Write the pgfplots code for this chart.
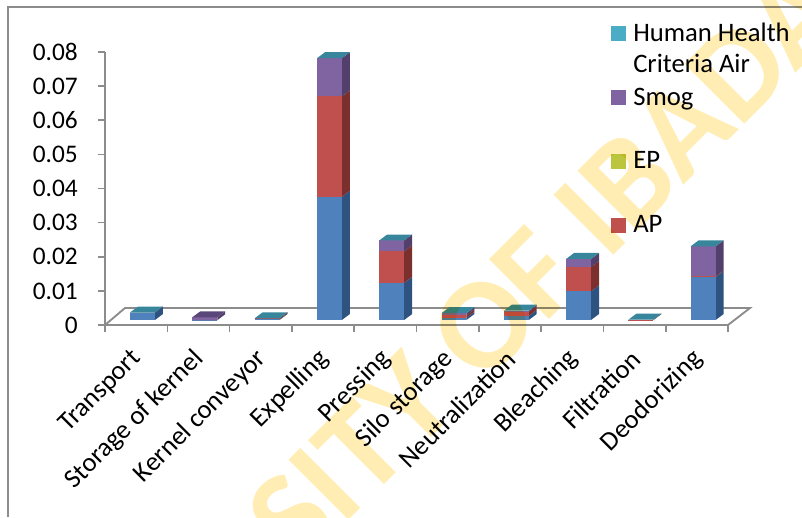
\documentclass[border=0pt]{standalone}
\usepackage{fontspec}
\setmainfont{Carlito}
\usepackage{pgfplots}
\usepackage{pgfplotstable}
\pgfplotsset{compat=1.18}

\definecolor{frameg}{HTML}{8C8C8C}
\definecolor{blueF}{HTML}{4F81BD}
\definecolor{blueS}{HTML}{2F5380}
\definecolor{redF}{HTML}{C0504D}
\definecolor{redS}{HTML}{7C302E}
\definecolor{purF}{HTML}{8064A2}
\definecolor{purS}{HTML}{523F6C}
\definecolor{purT}{HTML}{5A4678}
\definecolor{tealT}{HTML}{37869C}
\definecolor{hhleg}{HTML}{4BACC6}
\definecolor{epleg}{HTML}{BBC53E}
\definecolor{wmark}{HTML}{FFEDB3}

% segment heights of each stacked bar, bottom to top
\pgfplotstableread{
blue    red     smog
0.0022  0       0
0       0       0.0008
0.0002  0.0003  0
0.0361  0.0294  0.0112
0.0109  0.0092  0.0032
0.0007  0.0007  0.0006
0.0012  0.0012  0.0003
0.0084  0.0071  0.0024
0       0.0001  0
0.0126  0.0002  0.0088
}\bars

\newcommand{\barw}{0.2}
\newcommand{\dpx}{0.128}
\newcommand{\dpy}{0.00176}
\newcommand{\basey}{0.00147}

% #1 centre x, #2 from, #3 to, #4 front colour, #5 side colour
\newcommand{\segm}[5]{%
  \pgfmathsetmacro\xa{#1-\barw}\pgfmathsetmacro\xb{#1+\barw}\pgfmathsetmacro\xc{\xb+\dpx}%
  \pgfmathsetmacro\ya{#2}\pgfmathsetmacro\yb{#3}%
  \pgfmathsetmacro\yc{\ya+\dpy}\pgfmathsetmacro\yd{\yb+\dpy}%
  \edef\tmp{\noexpand\addplot[fill=#5,draw=none,mark=none,forget plot] coordinates {(\xb,\ya) (\xc,\yc) (\xc,\yd) (\xb,\yb)} --cycle;
    \noexpand\addplot[fill=#4,draw=none,mark=none,forget plot] coordinates {(\xa,\ya) (\xb,\ya) (\xb,\yb) (\xa,\yb)} --cycle;}\tmp}

\newcommand{\topface}[3]{%
  \pgfmathsetmacro\xa{#1-\barw}\pgfmathsetmacro\xb{#1+\barw}%
  \pgfmathsetmacro\xc{\xb+\dpx}\pgfmathsetmacro\xd{\xa+\dpx}%
  \pgfmathsetmacro\ya{#2}\pgfmathsetmacro\yb{\ya+\dpy}%
  \edef\tmp{\noexpand\addplot[fill=#3,draw=none,mark=none,forget plot] coordinates {(\xa,\ya) (\xb,\ya) (\xc,\yb) (\xd,\yb)} --cycle;}\tmp}

\begin{document}
\begin{tikzpicture}[x=0.75pt,y=-0.75pt]
\path[use as bounding box] (0,0) rectangle (802,517);
% chart frame
\draw[frameg,line width=1.3pt] (8,517) -- (8,7) -- (802,7);
% floor
\draw[frameg,line width=1.4pt,line join=miter] (105,325) -- (125,308) -- (750,308) -- (728,325);

\begin{axis}[
    at={(78.75pt,-243.75pt)}, anchor=south west,
    scale only axis, width=467.25pt, height=204.75pt,
    xmin=0, xmax=10, ymin=0, ymax=0.08,
    clip=false,
    axis lines=left,
    axis line style={-,frameg,line width=1.4pt},
    tick style={frameg,line width=1.2pt},
    tick align=outside, major tick length=5.25pt,
    xtick={0,1,...,10}, xticklabels={},
    ytick={0,0.01,0.02,0.03,0.04,0.05,0.06,0.07,0.08},
    yticklabels={0,0.01,0.02,0.03,0.04,0.05,0.06,0.07,0.08},
    scaled y ticks=false,
    yticklabel style={font=\fontsize{19}{19}\selectfont,inner xsep=0pt,xshift=-15pt},
    extra x ticks={0.5,1.5,2.5,3.5,4.5,5.5,6.5,7.5,8.5,9.5},
    extra x tick labels={Transport,Storage of kernel,Kernel conveyor,Expelling,Pressing,Silo storage,Neutralization,Bleaching,Filtration,Deodorizing},
    extra x tick style={
      major tick length=0pt,
      xticklabel style={font=\fontsize{20}{20}\selectfont,rotate=45,anchor=east,inner sep=0pt,xshift=-15.1pt,yshift=-16.5pt},
    },
  ]
  \pgfplotsforeachungrouped \i in {0,...,9}{%
    \pgfmathsetmacro\cx{\i+0.602}%
    \pgfplotstablegetelem{\i}{blue}\of\bars \let\vb\pgfplotsretval
    \pgfplotstablegetelem{\i}{red}\of\bars \let\vr\pgfplotsretval
    \pgfplotstablegetelem{\i}{smog}\of\bars \let\vs\pgfplotsretval
    \pgfmathsetmacro\ta{\basey+\vb}%
    \pgfmathsetmacro\tb{\ta+\vr}%
    \pgfmathsetmacro\tc{\tb+\vs}%
    \segm{\cx}{\basey}{\ta}{blueF}{blueS}%
    \segm{\cx}{\ta}{\tb}{redF}{redS}%
    \segm{\cx}{\tb}{\tc}{purF}{purS}%
    \ifnum\i=1 \topface{\cx}{\tc}{purT}\else \topface{\cx}{\tc}{tealT}\fi
  }
\end{axis}

% legend
\fill[hhleg] (611,26) rectangle (626,41);
\fill[purF] (611,90) rectangle (626,105);
\fill[epleg] (611,154) rectangle (626,169);
\fill[redF] (611,218) rectangle (626,233);
\begin{scope}[every node/.style={anchor=base west,inner sep=0pt,font=\fontsize{20}{20}\selectfont}]
\node at (633,41) {Human Health};
\node at (633,73) {Criteria Air};
\node at (633,105) {Smog};
\node at (633,168) {EP};
\node at (633,232) {AP};
\end{scope}

% watermark
\begin{scope}[blend mode=multiply]
\clip (0,0) rectangle (802,517);
\node[rotate=45,anchor=base west,inner sep=0pt,text=wmark,font=\fontsize{98}{98}\selectfont\bfseries] at (299,570) {SITY OF IBADAN};
\end{scope}
\end{tikzpicture}
\end{document}
